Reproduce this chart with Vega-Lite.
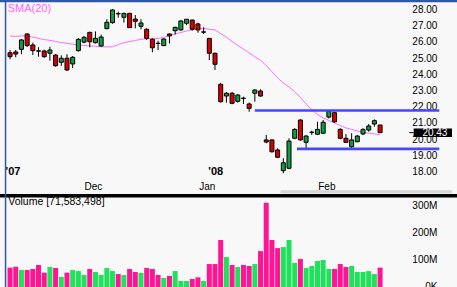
{
  "$schema": "https://vega.github.io/schema/vega-lite/v6.json",
  "width": 457,
  "height": 287,
  "padding": 0,
  "autosize": {"type": "none"},
  "background": "#f8f8f8",
  "config": {"view": {"stroke": null}, "font": "Liberation Sans"},
  "datasets": {
    "candles": [
      {"date": "2007-11-09", "d": 0, "o": 25.36, "h": 25.53, "l": 24.96, "c": 25.12, "v": 71.6, "sma": 26.40},
      {"date": "2007-11-12", "d": 1, "o": 25.41, "h": 25.53, "l": 25.08, "c": 25.28, "v": 75.3, "sma": 26.37},
      {"date": "2007-11-13", "d": 2, "o": 25.57, "h": 26.20, "l": 25.27, "c": 26.15, "v": 63.0, "sma": 26.40},
      {"date": "2007-11-14", "d": 3, "o": 26.52, "h": 26.56, "l": 25.72, "c": 25.80, "v": 63.0, "sma": 26.40},
      {"date": "2007-11-15", "d": 4, "o": 25.84, "h": 25.98, "l": 25.22, "c": 25.49, "v": 66.7, "sma": 26.33},
      {"date": "2007-11-16", "d": 5, "o": 25.48, "h": 25.70, "l": 25.12, "c": 25.46, "v": 81.5, "sma": 26.25},
      {"date": "2007-11-19", "d": 6, "o": 25.47, "h": 25.55, "l": 25.05, "c": 25.12, "v": 53.0, "sma": 26.17},
      {"date": "2007-11-20", "d": 7, "o": 25.33, "h": 25.73, "l": 24.87, "c": 25.53, "v": 74.0, "sma": 26.13},
      {"date": "2007-11-21", "d": 8, "o": 25.22, "h": 25.28, "l": 24.50, "c": 24.56, "v": 70.4, "sma": 26.05},
      {"date": "2007-11-23", "d": 9, "o": 24.77, "h": 25.20, "l": 24.55, "c": 25.02, "v": 37.0, "sma": 25.99},
      {"date": "2007-11-26", "d": 10, "o": 25.02, "h": 25.27, "l": 24.23, "c": 24.30, "v": 53.0, "sma": 25.94},
      {"date": "2007-11-27", "d": 11, "o": 24.67, "h": 25.16, "l": 24.42, "c": 25.08, "v": 63.0, "sma": 25.89},
      {"date": "2007-11-28", "d": 12, "o": 25.49, "h": 26.27, "l": 25.43, "c": 26.19, "v": 59.0, "sma": 25.85},
      {"date": "2007-11-29", "d": 13, "o": 26.02, "h": 26.40, "l": 25.94, "c": 26.31, "v": 44.4, "sma": 25.81},
      {"date": "2007-11-30", "d": 14, "o": 26.62, "h": 26.65, "l": 25.70, "c": 26.04, "v": 66.7, "sma": 25.78},
      {"date": "2007-12-03", "d": 15, "o": 25.98, "h": 26.68, "l": 25.94, "c": 26.25, "v": 55.6, "sma": 25.76},
      {"date": "2007-12-04", "d": 16, "o": 25.78, "h": 26.48, "l": 25.73, "c": 26.33, "v": 44.4, "sma": 25.73},
      {"date": "2007-12-05", "d": 17, "o": 26.85, "h": 27.43, "l": 26.81, "c": 27.24, "v": 70.4, "sma": 25.72},
      {"date": "2007-12-06", "d": 18, "o": 27.22, "h": 28.04, "l": 27.15, "c": 28.00, "v": 59.0, "sma": 25.73},
      {"date": "2007-12-07", "d": 19, "o": 27.78, "h": 27.90, "l": 27.53, "c": 27.76, "v": 48.0, "sma": 25.86},
      {"date": "2007-12-10", "d": 20, "o": 27.55, "h": 27.83, "l": 27.22, "c": 27.79, "v": 44.4, "sma": 25.98},
      {"date": "2007-12-11", "d": 21, "o": 27.79, "h": 27.83, "l": 26.89, "c": 26.91, "v": 66.7, "sma": 26.05},
      {"date": "2007-12-12", "d": 22, "o": 27.44, "h": 27.69, "l": 26.87, "c": 27.30, "v": 55.6, "sma": 26.12},
      {"date": "2007-12-13", "d": 23, "o": 26.99, "h": 27.43, "l": 26.81, "c": 27.20, "v": 51.9, "sma": 26.19},
      {"date": "2007-12-14", "d": 24, "o": 26.81, "h": 26.87, "l": 26.15, "c": 26.25, "v": 70.4, "sma": 26.23},
      {"date": "2007-12-17", "d": 25, "o": 26.19, "h": 26.25, "l": 25.39, "c": 25.67, "v": 66.7, "sma": 26.25},
      {"date": "2007-12-18", "d": 26, "o": 25.95, "h": 26.10, "l": 25.53, "c": 25.93, "v": 44.4, "sma": 26.25},
      {"date": "2007-12-19", "d": 27, "o": 25.80, "h": 26.25, "l": 25.78, "c": 26.21, "v": 33.3, "sma": 26.31},
      {"date": "2007-12-20", "d": 28, "o": 26.52, "h": 26.55, "l": 25.94, "c": 26.40, "v": 40.7, "sma": 26.43},
      {"date": "2007-12-21", "d": 29, "o": 26.72, "h": 26.97, "l": 26.48, "c": 26.93, "v": 59.0, "sma": 26.53},
      {"date": "2007-12-24", "d": 30, "o": 26.77, "h": 27.38, "l": 26.72, "c": 27.32, "v": 22.2, "sma": 26.61},
      {"date": "2007-12-26", "d": 31, "o": 27.18, "h": 27.44, "l": 27.07, "c": 27.43, "v": 22.2, "sma": 26.70},
      {"date": "2007-12-27", "d": 32, "o": 27.38, "h": 27.40, "l": 26.72, "c": 26.81, "v": 29.6, "sma": 26.79},
      {"date": "2007-12-28", "d": 33, "o": 27.14, "h": 27.22, "l": 26.60, "c": 26.77, "v": 35.8, "sma": 26.84},
      {"date": "2007-12-31", "d": 34, "o": 26.63, "h": 26.93, "l": 26.52, "c": 26.65, "v": 22.2, "sma": 26.87},
      {"date": "2008-01-02", "d": 35, "o": 26.25, "h": 26.27, "l": 24.91, "c": 25.33, "v": 85.0, "sma": 26.81},
      {"date": "2008-01-03", "d": 36, "o": 25.33, "h": 25.36, "l": 24.30, "c": 24.65, "v": 85.0, "sma": 26.77},
      {"date": "2008-01-04", "d": 37, "o": 23.41, "h": 23.51, "l": 22.28, "c": 22.34, "v": 174.0, "sma": 26.54},
      {"date": "2008-01-07", "d": 38, "o": 22.69, "h": 22.94, "l": 22.28, "c": 22.86, "v": 111.0, "sma": 26.32},
      {"date": "2008-01-08", "d": 39, "o": 22.86, "h": 22.94, "l": 22.18, "c": 22.24, "v": 81.5, "sma": 26.06},
      {"date": "2008-01-09", "d": 40, "o": 22.36, "h": 22.82, "l": 22.28, "c": 22.75, "v": 74.0, "sma": 25.81},
      {"date": "2008-01-10", "d": 41, "o": 22.56, "h": 22.65, "l": 22.20, "c": 22.54, "v": 81.5, "sma": 25.59},
      {"date": "2008-01-11", "d": 42, "o": 22.20, "h": 22.28, "l": 21.72, "c": 21.93, "v": 77.8, "sma": 25.35},
      {"date": "2008-01-14", "d": 43, "o": 22.86, "h": 23.10, "l": 22.34, "c": 23.06, "v": 85.0, "sma": 25.11},
      {"date": "2008-01-15", "d": 44, "o": 23.00, "h": 23.10, "l": 22.65, "c": 22.69, "v": 133.0, "sma": 24.90},
      {"date": "2008-01-16", "d": 45, "o": 19.98, "h": 20.28, "l": 19.77, "c": 19.85, "v": 312.0, "sma": 24.57},
      {"date": "2008-01-17", "d": 46, "o": 19.98, "h": 19.99, "l": 19.20, "c": 19.25, "v": 174.0, "sma": 24.20},
      {"date": "2008-01-18", "d": 47, "o": 19.36, "h": 19.46, "l": 18.85, "c": 18.91, "v": 144.0, "sma": 23.80},
      {"date": "2008-01-22", "d": 48, "o": 18.08, "h": 18.85, "l": 17.92, "c": 18.57, "v": 148.0, "sma": 23.50},
      {"date": "2008-01-23", "d": 49, "o": 18.23, "h": 20.08, "l": 18.17, "c": 19.91, "v": 174.0, "sma": 23.25},
      {"date": "2008-01-24", "d": 50, "o": 20.08, "h": 20.70, "l": 20.04, "c": 20.63, "v": 89.0, "sma": 22.95},
      {"date": "2008-01-25", "d": 51, "o": 21.21, "h": 21.25, "l": 19.93, "c": 19.98, "v": 103.7, "sma": 22.60},
      {"date": "2008-01-28", "d": 52, "o": 19.83, "h": 20.28, "l": 19.46, "c": 20.22, "v": 70.4, "sma": 22.20},
      {"date": "2008-01-29", "d": 53, "o": 20.44, "h": 20.55, "l": 20.28, "c": 20.46, "v": 77.8, "sma": 21.85},
      {"date": "2008-01-30", "d": 54, "o": 20.33, "h": 21.10, "l": 20.28, "c": 20.63, "v": 96.3, "sma": 21.55},
      {"date": "2008-01-31", "d": 55, "o": 20.39, "h": 21.21, "l": 20.35, "c": 21.07, "v": 100.0, "sma": 21.35},
      {"date": "2008-02-01", "d": 56, "o": 21.39, "h": 21.80, "l": 21.30, "c": 21.75, "v": 66.7, "sma": 21.18},
      {"date": "2008-02-04", "d": 57, "o": 21.66, "h": 21.72, "l": 21.04, "c": 21.10, "v": 66.7, "sma": 21.02},
      {"date": "2008-02-05", "d": 58, "o": 20.63, "h": 20.70, "l": 20.02, "c": 20.08, "v": 85.0, "sma": 20.87},
      {"date": "2008-02-06", "d": 59, "o": 20.08, "h": 20.35, "l": 19.81, "c": 19.83, "v": 74.0, "sma": 20.72},
      {"date": "2008-02-07", "d": 60, "o": 19.56, "h": 20.39, "l": 19.40, "c": 19.98, "v": 77.8, "sma": 20.63},
      {"date": "2008-02-08", "d": 61, "o": 19.87, "h": 20.28, "l": 19.83, "c": 20.22, "v": 55.6, "sma": 20.53},
      {"date": "2008-02-11", "d": 62, "o": 20.35, "h": 20.70, "l": 20.28, "c": 20.63, "v": 55.6, "sma": 20.45},
      {"date": "2008-02-12", "d": 63, "o": 20.59, "h": 20.96, "l": 20.49, "c": 20.84, "v": 59.0, "sma": 20.40},
      {"date": "2008-02-13", "d": 64, "o": 20.96, "h": 21.25, "l": 20.80, "c": 21.17, "v": 48.0, "sma": 20.35},
      {"date": "2008-02-14", "d": 65, "o": 20.90, "h": 20.90, "l": 20.40, "c": 20.43, "v": 71.58, "sma": 20.30}
    ],
    "levels": [
      {"d": 43, "d2": 75.4, "p": 21.80},
      {"d": 50.4, "d2": 75.4, "p": 19.43}
    ],
    "months": [
      {"d": 15, "label": "Dec"},
      {"d": 35, "label": "Jan"},
      {"d": 56, "label": "Feb"}
    ],
    "priceTicks": [
      {"p": 18, "label": "18.00"}, {"p": 19, "label": "19.00"}, {"p": 20, "label": "20.00"},
      {"p": 21, "label": "21.00"}, {"p": 22, "label": "22.00"}, {"p": 23, "label": "23.00"},
      {"p": 24, "label": "24.00"}, {"p": 25, "label": "25.00"}, {"p": 26, "label": "26.00"},
      {"p": 27, "label": "27.00"}, {"p": 28, "label": "28.00"}
    ],
    "volTicks": [
      {"v": 0, "label": "0K"}, {"v": 100, "label": "100M"}, {"v": 200, "label": "200M"}, {"v": 300, "label": "300M"}
    ],
    "last": [{"last": 20.43}]
  },
  "layer": [
    {
      "layer": [
        {
          "data": {"name": "candles"},
          "mark": {"type": "line", "color": "#ff6cff", "strokeWidth": 1},
          "encoding": {
            "x": {"field": "d", "type": "quantitative", "scale": {"domain": [-0.888, 77.63], "nice": false, "zero": false}, "axis": null},
            "y": {"field": "sma", "type": "quantitative", "scale": {"domain": [10.901, 28.617], "nice": false, "zero": false}, "axis": null}
          }
        },
        {
          "data": {"name": "candles"},
          "mark": {"type": "rule", "color": "#000000", "strokeWidth": 1},
          "encoding": {
            "x": {"field": "d", "type": "quantitative", "scale": {"domain": [-0.888, 77.63], "nice": false, "zero": false}, "axis": null},
            "y": {"field": "l", "type": "quantitative", "scale": {"domain": [10.901, 28.617], "nice": false, "zero": false}, "axis": null},
            "y2": {"field": "h"}
          }
        },
        {
          "data": {"name": "candles"},
          "mark": {"type": "bar", "orient": "vertical", "width": 4, "stroke": "#000000", "strokeWidth": 1},
          "encoding": {
            "x": {"field": "d", "type": "quantitative", "scale": {"domain": [-0.888, 77.63], "nice": false, "zero": false}, "axis": null},
            "y": {"field": "o", "type": "quantitative", "scale": {"domain": [10.901, 28.617], "nice": false, "zero": false}, "axis": null},
            "y2": {"field": "c"},
            "fill": {"condition": {"test": "datum.c >= datum.o", "value": "#129a44"}, "value": "#d80000"}
          }
        },
        {
          "data": {"name": "priceTicks"},
          "mark": {"type": "text", "color": "#000000", "fontSize": 10, "font": "Liberation Sans", "align": "right", "baseline": "middle"},
          "encoding": {
            "x": {"datum": 75.06, "type": "quantitative", "scale": {"domain": [-0.888, 77.63], "nice": false, "zero": false}, "axis": null},
            "y": {"field": "p", "type": "quantitative", "scale": {"domain": [10.901, 28.617], "nice": false, "zero": false}, "axis": null},
            "text": {"field": "label"}
          }
        },
        {
          "data": {"name": "levels"},
          "mark": {"type": "rule", "color": "#4646ff", "strokeWidth": 2.6},
          "encoding": {
            "x": {"field": "d", "type": "quantitative", "scale": {"domain": [-0.888, 77.63], "nice": false, "zero": false}, "axis": null},
            "x2": {"field": "d2"},
            "y": {"field": "p", "type": "quantitative", "scale": {"domain": [10.901, 28.617], "nice": false, "zero": false}, "axis": null}
          }
        },
        {
          "data": {"values": [{"label": "SMA(20)"}]},
          "mark": {"type": "text", "color": "#ff66ff", "fontSize": 11, "font": "Liberation Sans", "align": "left", "baseline": "middle"},
          "encoding": {
            "x": {"datum": -0.42, "type": "quantitative", "scale": {"domain": [-0.888, 77.63], "nice": false, "zero": false}, "axis": null},
            "y": {"datum": 28.06, "type": "quantitative", "scale": {"domain": [10.901, 28.617], "nice": false, "zero": false}, "axis": null},
            "text": {"field": "label"}
          }
        },
        {
          "data": {"name": "months"},
          "mark": {"type": "text", "color": "#000000", "fontSize": 10, "font": "Liberation Sans", "align": "center", "baseline": "middle", "dx": -2},
          "encoding": {
            "x": {"field": "d", "type": "quantitative", "scale": {"domain": [-0.888, 77.63], "nice": false, "zero": false}, "axis": null},
            "y": {"datum": 17.07, "type": "quantitative", "scale": {"domain": [10.901, 28.617], "nice": false, "zero": false}, "axis": null},
            "text": {"field": "label"}
          }
        },
        {
          "data": {"values": [{"d": 0, "label": "'07"}]},
          "mark": {"type": "text", "color": "#000000", "fontSize": 11, "fontWeight": "bold", "font": "Liberation Sans", "align": "left", "baseline": "middle", "dx": -4.5},
          "encoding": {
            "x": {"field": "d", "type": "quantitative", "scale": {"domain": [-0.888, 77.63], "nice": false, "zero": false}, "axis": null},
            "y": {"datum": 18.02, "type": "quantitative", "scale": {"domain": [10.901, 28.617], "nice": false, "zero": false}, "axis": null},
            "text": {"field": "label"}
          }
        },
        {
          "data": {"values": [{"d": 35, "label": "'08"}]},
          "mark": {"type": "text", "color": "#000000", "fontSize": 11, "fontWeight": "bold", "font": "Liberation Sans", "align": "left", "baseline": "middle", "dx": -1},
          "encoding": {
            "x": {"field": "d", "type": "quantitative", "scale": {"domain": [-0.888, 77.63], "nice": false, "zero": false}, "axis": null},
            "y": {"datum": 18.02, "type": "quantitative", "scale": {"domain": [10.901, 28.617], "nice": false, "zero": false}, "axis": null},
            "text": {"field": "label"}
          }
        },
        {
          "data": {"name": "last"},
          "mark": {"type": "rule", "color": "#000000", "strokeWidth": 1},
          "encoding": {
            "x": {"datum": 70.13, "type": "quantitative", "scale": {"domain": [-0.888, 77.63], "nice": false, "zero": false}, "axis": null},
            "x2": {"datum": 70.9},
            "y": {"field": "last", "type": "quantitative", "scale": {"domain": [10.901, 28.617], "nice": false, "zero": false}, "axis": null}
          }
        },
        {
          "data": {"name": "last"},
          "mark": {"type": "rule", "color": "#000000", "strokeWidth": 8.5, "strokeCap": "butt"},
          "encoding": {
            "x": {"datum": 70.9, "type": "quantitative", "scale": {"domain": [-0.888, 77.63], "nice": false, "zero": false}, "axis": null},
            "x2": {"datum": 77.63},
            "y": {"field": "last", "type": "quantitative", "scale": {"domain": [10.901, 28.617], "nice": false, "zero": false}, "axis": null}
          }
        },
        {
          "data": {"name": "last"},
          "mark": {"type": "text", "color": "#ffffff", "fontSize": 10, "font": "Liberation Sans", "align": "left", "baseline": "middle"},
          "encoding": {
            "x": {"datum": 72.43, "type": "quantitative", "scale": {"domain": [-0.888, 77.63], "nice": false, "zero": false}, "axis": null},
            "y": {"field": "last", "type": "quantitative", "scale": {"domain": [10.901, 28.617], "nice": false, "zero": false}, "axis": null},
            "text": {"field": "last", "type": "quantitative", "format": ".2f"}
          }
        },
        {
          "data": {"values": [{}]},
          "mark": {"type": "rule", "color": "#d6d6d6", "strokeWidth": 3},
          "encoding": {
            "x": {"datum": 47.5, "type": "quantitative", "scale": {"domain": [-0.888, 77.63], "nice": false, "zero": false}, "axis": null},
            "x2": {"datum": 77.63},
            "y": {"datum": 16.78, "type": "quantitative", "scale": {"domain": [10.901, 28.617], "nice": false, "zero": false}, "axis": null}
          }
        },
        {
          "data": {"values": [{}]},
          "mark": {"type": "rule", "color": "#000000", "strokeWidth": 3.4},
          "encoding": {
            "y": {"datum": 16.537, "type": "quantitative", "scale": {"domain": [10.901, 28.617], "nice": false, "zero": false}, "axis": null}
          }
        },
        {
          "data": {"values": [{}]},
          "mark": {"type": "rule", "color": "#3058a8", "strokeWidth": 2.2},
          "encoding": {
            "y": {"datum": 28.55, "type": "quantitative", "scale": {"domain": [10.901, 28.617], "nice": false, "zero": false}, "axis": null}
          }
        },
        {
          "data": {"values": [{}]},
          "mark": {"type": "rule", "color": "#3058a8", "strokeWidth": 1.5},
          "encoding": {
            "x": {"datum": -0.79, "type": "quantitative", "scale": {"domain": [-0.888, 77.63], "nice": false, "zero": false}, "axis": null}
          }
        }
      ]
    },
    {
      "layer": [
        {
          "data": {"name": "candles"},
          "mark": {"type": "bar", "orient": "vertical", "width": 5},
          "encoding": {
            "x": {"field": "d", "type": "quantitative", "scale": {"domain": [-0.888, 77.63], "nice": false, "zero": false}, "axis": null},
            "y": {"field": "v", "type": "quantitative", "stack": null, "scale": {"domain": [0, 1063], "nice": false, "zero": true}, "axis": null},
            "fill": {"condition": {"test": "datum.c >= datum.o", "value": "#1ee35a"}, "value": "#ff1493"}
          }
        },
        {
          "data": {"name": "volTicks"},
          "mark": {"type": "text", "color": "#000000", "fontSize": 10, "font": "Liberation Sans", "align": "right", "baseline": "middle"},
          "encoding": {
            "x": {"datum": 75.06, "type": "quantitative", "scale": {"domain": [-0.888, 77.63], "nice": false, "zero": false}, "axis": null},
            "y": {"field": "v", "type": "quantitative", "scale": {"domain": [0, 1063], "nice": false, "zero": true}, "axis": null},
            "text": {"field": "label"}
          }
        },
        {
          "data": {"values": [{"label": "Volume [71,583,498]"}]},
          "mark": {"type": "text", "color": "#000000", "fontSize": 10.5, "font": "Liberation Sans", "align": "left", "baseline": "middle"},
          "encoding": {
            "x": {"datum": -0.32, "type": "quantitative", "scale": {"domain": [-0.888, 77.63], "nice": false, "zero": false}, "axis": null},
            "y": {"datum": 316, "type": "quantitative", "scale": {"domain": [0, 1063], "nice": false, "zero": true}, "axis": null},
            "text": {"field": "label"}
          }
        }
      ]
    }
  ],
  "resolve": {"scale": {"y": "independent"}}
}
